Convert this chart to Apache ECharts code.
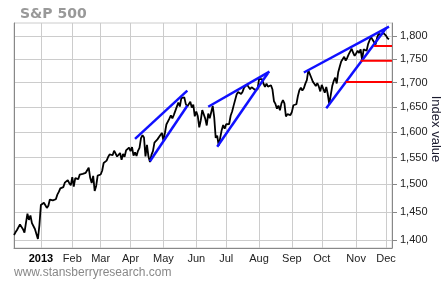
<!DOCTYPE html>
<html><head><meta charset="utf-8">
<script src="https://cdn.jsdelivr.net/npm/echarts@6/dist/echarts.min.js"></script>
<style>html,body{margin:0;padding:0;background:#fff}#c{width:443px;height:282px}</style>
</head><body><div id="c"></div>
<script>
// Trading days (Dec 2012 - Dec 2013)
const dec12 = ['2012-12-05','2012-12-06','2012-12-07','2012-12-10','2012-12-11','2012-12-12','2012-12-13','2012-12-14','2012-12-17','2012-12-18','2012-12-19','2012-12-20','2012-12-21','2012-12-24','2012-12-26','2012-12-27','2012-12-28','2012-12-31'];
const dec12V = [1409.28,1413.94,1418.07,1418.55,1427.84,1428.48,1419.45,1413.58,1430.36,1446.79,1435.81,1443.69,1430.15,1426.66,1419.83,1418.10,1402.43,1426.19];
const jan = ['2013-01-02','2013-01-03','2013-01-04','2013-01-07','2013-01-08','2013-01-09','2013-01-10','2013-01-11','2013-01-14','2013-01-15','2013-01-16','2013-01-17','2013-01-18','2013-01-22','2013-01-23','2013-01-24','2013-01-25','2013-01-28','2013-01-29','2013-01-30','2013-01-31'];
const janV = [1462.42,1459.37,1466.47,1461.89,1457.15,1461.02,1472.12,1472.05,1470.68,1472.34,1472.63,1480.94,1485.98,1492.56,1494.81,1494.82,1502.96,1500.18,1507.84,1501.96,1498.11];
const feb = ['2013-02-01','2013-02-04','2013-02-05','2013-02-06','2013-02-07','2013-02-08','2013-02-11','2013-02-12','2013-02-13','2013-02-14','2013-02-15','2013-02-19','2013-02-20','2013-02-21','2013-02-22','2013-02-25','2013-02-26','2013-02-27','2013-02-28'];
const febV = [1513.17,1495.71,1511.29,1512.12,1509.39,1517.93,1517.01,1519.43,1520.33,1521.38,1519.79,1530.94,1511.95,1502.42,1515.60,1487.85,1496.94,1515.99,1514.68];
const mar = ['2013-03-01','2013-03-04','2013-03-05','2013-03-06','2013-03-07','2013-03-08','2013-03-11','2013-03-12','2013-03-13','2013-03-14','2013-03-15','2013-03-18','2013-03-19','2013-03-20','2013-03-21','2013-03-22','2013-03-25','2013-03-26','2013-03-27','2013-03-28'];
const marV = [1518.20,1525.20,1539.79,1541.46,1544.26,1551.18,1556.22,1552.48,1554.52,1563.23,1560.70,1552.10,1548.34,1558.71,1545.80,1556.89,1551.69,1563.77,1562.85,1569.19];
const apr = ['2013-04-01','2013-04-02','2013-04-03','2013-04-04','2013-04-05','2013-04-08','2013-04-09','2013-04-10','2013-04-11','2013-04-12','2013-04-15','2013-04-16','2013-04-17','2013-04-18','2013-04-19','2013-04-22','2013-04-23','2013-04-24','2013-04-25','2013-04-26','2013-04-29','2013-04-30'];
const aprV = [1562.17,1570.25,1553.69,1559.98,1553.28,1563.07,1568.61,1587.73,1593.37,1588.85,1552.36,1574.57,1552.01,1541.61,1555.25,1562.50,1578.78,1578.79,1585.16,1582.24,1593.61,1597.57];
const may = ['2013-05-01','2013-05-02','2013-05-03','2013-05-06','2013-05-07','2013-05-08','2013-05-09','2013-05-10','2013-05-13','2013-05-14','2013-05-15','2013-05-16','2013-05-17','2013-05-20','2013-05-21','2013-05-22','2013-05-23','2013-05-24','2013-05-28','2013-05-29','2013-05-30','2013-05-31'];
const mayV = [1582.70,1597.59,1614.42,1617.50,1625.96,1632.69,1626.67,1633.70,1633.77,1650.34,1658.78,1650.47,1667.47,1666.29,1669.16,1655.35,1650.51,1649.60,1660.06,1648.36,1654.41,1630.74];
const jun = ['2013-06-03','2013-06-04','2013-06-05','2013-06-06','2013-06-07','2013-06-10','2013-06-11','2013-06-12','2013-06-13','2013-06-14','2013-06-17','2013-06-18','2013-06-19','2013-06-20','2013-06-21','2013-06-24','2013-06-25','2013-06-26','2013-06-27','2013-06-28'];
const junV = [1640.42,1631.38,1608.90,1622.56,1643.38,1642.81,1626.13,1612.52,1636.36,1626.73,1639.04,1651.81,1628.93,1588.19,1592.43,1573.09,1588.03,1603.26,1613.20,1606.28];
const jul = ['2013-07-01','2013-07-02','2013-07-03','2013-07-05','2013-07-08','2013-07-09','2013-07-10','2013-07-11','2013-07-12','2013-07-15','2013-07-16','2013-07-17','2013-07-18','2013-07-19','2013-07-22','2013-07-23','2013-07-24','2013-07-25','2013-07-26','2013-07-29','2013-07-30','2013-07-31'];
const julV = [1614.96,1614.08,1615.41,1631.89,1640.46,1652.32,1652.62,1675.02,1680.19,1682.50,1676.26,1680.91,1689.37,1692.09,1695.53,1692.39,1685.94,1690.25,1691.65,1685.33,1685.96,1685.73];
const aug = ['2013-08-01','2013-08-02','2013-08-05','2013-08-06','2013-08-07','2013-08-08','2013-08-09','2013-08-12','2013-08-13','2013-08-14','2013-08-15','2013-08-16','2013-08-19','2013-08-20','2013-08-21','2013-08-22','2013-08-23','2013-08-26','2013-08-27','2013-08-28','2013-08-29','2013-08-30'];
const augV = [1706.87,1709.67,1707.14,1697.37,1690.91,1697.48,1691.42,1689.47,1694.16,1685.39,1661.32,1655.83,1646.06,1652.35,1642.80,1656.96,1663.50,1656.78,1630.48,1634.96,1638.17,1632.97];
const sep = ['2013-09-03','2013-09-04','2013-09-05','2013-09-06','2013-09-09','2013-09-10','2013-09-11','2013-09-12','2013-09-13','2013-09-16','2013-09-17','2013-09-18','2013-09-19','2013-09-20','2013-09-23','2013-09-24','2013-09-25','2013-09-26','2013-09-27','2013-09-30'];
const sepV = [1639.77,1653.08,1655.08,1655.17,1671.71,1683.99,1689.13,1683.42,1687.99,1697.60,1704.76,1725.52,1722.34,1709.91,1701.84,1697.42,1692.77,1698.67,1691.75,1681.55];
const oct = ['2013-10-01','2013-10-02','2013-10-03','2013-10-04','2013-10-07','2013-10-08','2013-10-09','2013-10-10','2013-10-11','2013-10-14','2013-10-15','2013-10-16','2013-10-17','2013-10-18','2013-10-21','2013-10-22','2013-10-23','2013-10-24','2013-10-25','2013-10-28','2013-10-29','2013-10-30','2013-10-31'];
const octV = [1695.00,1693.87,1678.66,1690.50,1676.12,1655.45,1656.40,1692.56,1703.20,1710.14,1698.06,1721.54,1733.15,1744.50,1744.66,1754.67,1746.38,1752.07,1759.77,1762.11,1771.95,1763.31,1756.54];
const nov = ['2013-11-01','2013-11-04','2013-11-05','2013-11-06','2013-11-07','2013-11-08','2013-11-11','2013-11-12','2013-11-13','2013-11-14','2013-11-15','2013-11-18','2013-11-19','2013-11-20','2013-11-21','2013-11-22','2013-11-25','2013-11-26','2013-11-27','2013-11-29'];
const novV = [1761.64,1767.93,1762.97,1770.49,1747.15,1770.61,1771.89,1767.69,1782.00,1790.62,1798.18,1791.53,1787.87,1781.37,1795.85,1804.76,1802.48,1802.75,1807.23,1805.81];
const dec13 = ['2013-12-02','2013-12-03','2013-12-04','2013-12-05','2013-12-06'];
const dec13V = [1800.90,1795.15,1792.81,null,null];

const monthLabels = ['2013','Feb','Mar','Apr','May','Jun','Jul','Aug','Sep','Oct','Nov','Dec'];
const yTicks = [1400,1450,1500,1550,1600,1650,1700,1750,1800];

// Trend channel lines (annotations)
const blueLines = [
  [['2013-04-04',1586],['2013-05-23',1683]],
  [['2013-04-18',1543],['2013-05-23',1652]],
  [['2013-06-13',1650],['2013-08-12',1723]],
  [['2013-06-21',1571],['2013-08-09',1720]],
  [['2013-09-13',1721],['2013-12-04',1821]],
  [['2013-10-04',1647],['2013-12-02',1817]]
];
const redLines = [
  [['2013-11-19',1778],['2013-12-06',1778]],
  [['2013-11-06',1746],['2013-12-06',1746]],
  [['2013-10-23',1701],['2013-12-06',1701]]
];

const dates = [].concat(dec12,jan,feb,mar,apr,may,jun,jul,aug,sep,oct,nov,dec13);
const values = [].concat(dec12V,janV,febV,marV,aprV,mayV,junV,julV,augV,sepV,octV,novV,dec13V);

const monthStart = {};
for (let i = 1; i < dates.length; i++) {
  if (dates[i].slice(0,7) !== dates[i-1].slice(0,7) && dates[i].slice(0,4) === '2013') {
    monthStart[i] = monthLabels[parseInt(dates[i].slice(5,7),10)-1];
  }
}
const isStart = (i) => monthStart[i] !== undefined;

const series = [{
  type:'line', data: values, showSymbol:false, symbol:'none', silent:true,
  lineStyle:{color:'#000', width:1.8}, z:2
}];
blueLines.forEach(l => series.push({type:'line', data:l, symbol:'none', silent:true, lineStyle:{color:'#1010ff', width:2.5}, z:3}));
redLines.forEach(l => series.push({type:'line', data:l, symbol:'none', silent:true, lineStyle:{color:'#ff0000', width:2}, z:3}));

const chart = echarts.init(document.getElementById('c'), null, {renderer:'canvas'});
chart.setOption({
  animation:false,
  backgroundColor:'#fff',
  title:{text:'S&P 500', left:15, top:2, textStyle:{fontFamily:'DejaVu Sans', fontWeight:'bold', fontSize:14, color:'#999'}},
  grid:{left:14, right:51, top:23, bottom:34, show:true, borderColor:'#cccccc', borderWidth:1},
  xAxis:{
    type:'category', data:dates, boundaryGap:false,
    axisLine:{show:true, lineStyle:{color:'#888', width:1}},
    axisTick:{show:false, interval:(i)=>isStart(i)},
    axisLabel:{interval:(i)=>isStart(i), margin:5, fontFamily:'Liberation Sans', fontSize:11, color:'#222',
      formatter:(v,i)=>{const m = monthStart[i]; return m === '2013' ? '{b|2013}' : m;},
      rich:{b:{fontWeight:'bold', fontFamily:'Liberation Sans', fontSize:11, color:'#000'}}},
    splitLine:{show:true, interval:(i)=>isStart(i), lineStyle:{color:'#cccccc', width:1}}
  },
  yAxis:[{
    type:'log', logBase:10, min:1387, max:1829, position:'right',
    axisLine:{show:true, lineStyle:{color:'#888', width:1}},
    axisTick:{show:true, customValues:yTicks, length:5, lineStyle:{color:'#888'}},
    axisLabel:{customValues:yTicks, margin:8, fontFamily:'Liberation Sans', fontSize:11, color:'#222',
      formatter:(v)=>Math.round(v).toLocaleString('en-US')},
    splitLine:{show:true, lineStyle:{color:'#cccccc', width:1}}
  },{
    type:'log', logBase:10, min:1387, max:1829, position:'left',
    axisLine:{show:true, lineStyle:{color:'#888', width:1}},
    axisTick:{show:false}, axisLabel:{show:false}, splitLine:{show:false}
  }],
  graphic:[
    {type:'text', left:14, top:267, style:{text:'www.stansberryresearch.com', font:'12px "Liberation Sans"', fill:'#888'}},
    {type:'text', x:436, y:129, rotation:-Math.PI/2, style:{text:'Index value', font:'13px "Liberation Sans"', fill:'#1a1a2e', align:'center', verticalAlign:'middle'}}
  ],
  series: series
});
</script>
</body></html>
